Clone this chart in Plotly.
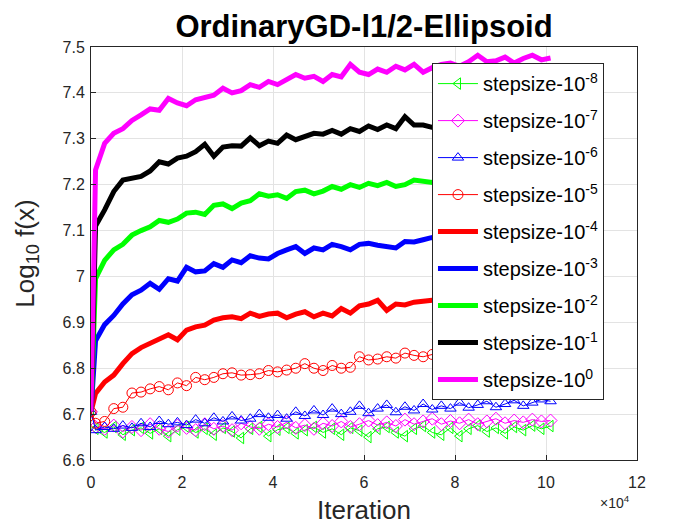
import plotly.graph_objects as go

# iteration grid (x values)
iters = [0] + list(range(1000, 101001, 2000))

# Log10 f(x) for each stepsize
s_1e8 = [6.705, 6.668, 6.660, 6.672, 6.655, 6.665, 6.670, 6.658, 6.668, 6.652,
         6.666, 6.672, 6.660, 6.668, 6.655, 6.670, 6.662, 6.648, 6.668, 6.672,
         6.652, 6.666, 6.670, 6.658, 6.665, 6.672, 6.660, 6.668, 6.655, 6.670,
         6.664, 6.650, 6.668, 6.672, 6.660, 6.652, 6.668, 6.674, 6.660, 6.655,
         6.670, 6.652, 6.668, 6.675, 6.662, 6.670, 6.658, 6.672, 6.665, 6.675,
         6.668, 6.674]
s_1e7 = [6.705, 6.672, 6.668, 6.675, 6.662, 6.672, 6.665, 6.678, 6.668, 6.662,
         6.675, 6.670, 6.665, 6.678, 6.668, 6.674, 6.665, 6.680, 6.672, 6.668,
         6.678, 6.672, 6.682, 6.670, 6.676, 6.668, 6.680, 6.674, 6.684, 6.672,
         6.678, 6.686, 6.676, 6.682, 6.674, 6.688, 6.678, 6.684, 6.690, 6.678,
         6.685, 6.680, 6.688, 6.678, 6.684, 6.690, 6.680, 6.686, 6.682, 6.688,
         6.684, 6.686]
s_1e6 = [6.705, 6.665, 6.672, 6.668, 6.675, 6.670, 6.680, 6.672, 6.685, 6.678,
         6.682, 6.676, 6.688, 6.680, 6.692, 6.684, 6.695, 6.686, 6.690, 6.700,
         6.692, 6.698, 6.690, 6.705, 6.696, 6.708, 6.698, 6.712, 6.700, 6.705,
         6.718, 6.702, 6.712, 6.720, 6.704, 6.716, 6.708, 6.722, 6.710, 6.718,
         6.712, 6.725, 6.714, 6.720, 6.728, 6.715, 6.722, 6.730, 6.718, 6.725,
         6.732, 6.728]
s_1e5 = [6.705, 6.680, 6.684, 6.712, 6.715, 6.746, 6.748, 6.755, 6.760, 6.753,
         6.768, 6.762, 6.780, 6.775, 6.780, 6.788, 6.790, 6.785, 6.786, 6.788,
         6.795, 6.792, 6.796, 6.800, 6.810, 6.800, 6.795, 6.806, 6.800, 6.802,
         6.825, 6.818, 6.820, 6.825, 6.822, 6.833, 6.828, 6.825, 6.830, 6.835,
         6.832, 6.838, 6.840, 6.836, 6.842, 6.845, 6.840, 6.848, 6.850, 6.846,
         6.852, 6.850]
s_1e4 = [6.705, 6.745, 6.770, 6.785, 6.810, 6.832, 6.845, 6.855, 6.862, 6.873,
         6.862, 6.883, 6.890, 6.894, 6.905, 6.910, 6.912, 6.908, 6.920, 6.913,
         6.918, 6.920, 6.910, 6.918, 6.923, 6.912, 6.920, 6.914, 6.930, 6.920,
         6.936, 6.940, 6.948, 6.926, 6.940, 6.938, 6.944, 6.945, 6.948, 6.950,
         6.946, 6.952, 6.955, 6.950, 6.958, 6.960, 6.955, 6.962, 6.965, 6.960,
         6.966, 6.968]
s_1e3 = [6.705, 6.860, 6.895, 6.915, 6.940, 6.960, 6.970, 6.985, 6.972, 6.995,
         6.990, 7.020, 7.010, 7.012, 7.028, 7.020, 7.036, 7.030, 7.045, 7.040,
         7.038, 7.050, 7.058, 7.065, 7.050, 7.062, 7.058, 7.070, 7.065, 7.058,
         7.070, 7.072, 7.068, 7.064, 7.062, 7.076, 7.075, 7.080, 7.085, 7.082,
         7.088, 7.085, 7.090, 7.094, 7.088, 7.095, 7.098, 7.092, 7.100, 7.098,
         7.104, 7.100]
s_1e2 = [6.705, 6.995, 7.035, 7.058, 7.070, 7.090, 7.100, 7.108, 7.122, 7.118,
         7.125, 7.138, 7.140, 7.135, 7.155, 7.158, 7.148, 7.160, 7.165, 7.180,
         7.175, 7.178, 7.170, 7.185, 7.188, 7.180, 7.186, 7.196, 7.190, 7.200,
         7.194, 7.203, 7.198, 7.205, 7.196, 7.200, 7.210, 7.208, 7.205, 7.212,
         7.215, 7.210, 7.218, 7.220, 7.215, 7.222, 7.226, 7.220, 7.228, 7.225,
         7.230, 7.232]
s_1e1 = [6.705, 7.110, 7.145, 7.185, 7.210, 7.215, 7.218, 7.230, 7.250, 7.245,
         7.258, 7.262, 7.272, 7.288, 7.262, 7.282, 7.285, 7.284, 7.302, 7.285,
         7.295, 7.290, 7.308, 7.298, 7.306, 7.312, 7.310, 7.318, 7.310, 7.322,
         7.316, 7.328, 7.320, 7.330, 7.322, 7.348, 7.330, 7.330, 7.325, 7.335,
         7.340, 7.332, 7.342, 7.338, 7.345, 7.340, 7.350, 7.342, 7.348, 7.352,
         7.345, 7.350]
s_1e0 = [6.705, 7.232, 7.290, 7.312, 7.322, 7.340, 7.352, 7.365, 7.362, 7.388,
         7.378, 7.372, 7.385, 7.390, 7.395, 7.410, 7.400, 7.405, 7.418, 7.412,
         7.425, 7.418, 7.430, 7.440, 7.432, 7.436, 7.425, 7.440, 7.435, 7.462,
         7.445, 7.440, 7.452, 7.445, 7.458, 7.450, 7.462, 7.445, 7.455, 7.462,
         7.465, 7.458, 7.468, 7.482, 7.468, 7.470, 7.478, 7.465, 7.475, 7.482,
         7.472, 7.476]

x_ticks = [0, 20000, 40000, 60000, 80000, 100000, 120000]
x_ticktext = ["0", "2", "4", "6", "8", "10", "12"]

fig = go.Figure()

# thin lines with open markers
marked = [
    (s_1e8, "-8", "#00ff00", "triangle-left-open"),
    (s_1e7, "-7", "#ff00ff", "diamond-open"),
    (s_1e6, "-6", "#0000ff", "triangle-up-open"),
    (s_1e5, "-5", "#ff0000", "circle-open"),
]
for i, (ys, p, c, sym) in enumerate(marked):
    fig.add_trace(go.Scatter(
        x=iters, y=ys, mode="lines+markers",
        name="stepsize-10<sup>%s</sup>" % p,
        legendgroup="g%d" % i,
        line=dict(color=c, width=1),
        marker=dict(symbol=sym, size=10, color=c, line=dict(width=1, color=c)),
    ))

# thick lines
thick = [
    (s_1e4, "-4", "#ff0000"),
    (s_1e3, "-3", "#0000ff"),
    (s_1e2, "-2", "#00ff00"),
    (s_1e1, "-1", "#000000"),
    (s_1e0, "0", "#ff00ff"),
]
for i, (ys, p, c) in enumerate(thick):
    fig.add_trace(go.Scatter(
        x=iters, y=ys, mode="lines",
        name="stepsize-10<sup>%s</sup>" % p,
        legendgroup="t%d" % i,
        line=dict(color=c, width=5),
    ))

axis_style = dict(
    showline=True, mirror=True, linecolor="#262626", linewidth=1,
    ticks="inside", ticklen=5, tickcolor="#262626",
    showgrid=True, gridcolor="#e3e3e3", gridwidth=1,
    zeroline=False, automargin=False,
    tickfont=dict(size=16, color="#262626"),
)

fig.update_xaxes(
    range=[0, 120000], tickvals=x_ticks, ticktext=x_ticktext,
    ticklabelstandoff=8,
    title=dict(text="Iteration", font=dict(size=26, color="#262626"), standoff=10),
    **axis_style
)
fig.update_yaxes(
    range=[6.6, 7.5], dtick=0.1, tick0=6.6,
    ticklabelstandoff=2,
    title=dict(text="Log<sub>10</sub> f(x)", font=dict(size=26, color="#262626"), standoff=20),
    **axis_style
)

fig.add_annotation(
    text="×10<sup>4</sup>", xref="paper", yref="paper", x=0.99, y=-0.102,
    xanchor="right", yanchor="middle", showarrow=False,
    font=dict(size=14, color="#262626"),
)

fig.update_layout(
    width=700, height=525,
    paper_bgcolor="white", plot_bgcolor="white",
    font=dict(family="Arial, Liberation Sans, sans-serif", color="#262626"),
    title=dict(text="<b>OrdinaryGD-l1/2-Ellipsoid</b>", x=0.5, xref="paper",
               xanchor="center", y=0.966, yanchor="middle", automargin=False,
               font=dict(size=31, color="black")),
    margin=dict(l=83, r=71, t=39, b=73, autoexpand=False),
    showlegend=True,
    legend=dict(
        x=0.6245, y=0.961, xanchor="left", yanchor="top",
        bgcolor="white", bordercolor="#262626", borderwidth=1,
        font=dict(size=20, color="black"),
        tracegroupgap=8, itemwidth=40,
    ),
)

fig.write_html("out.html")
